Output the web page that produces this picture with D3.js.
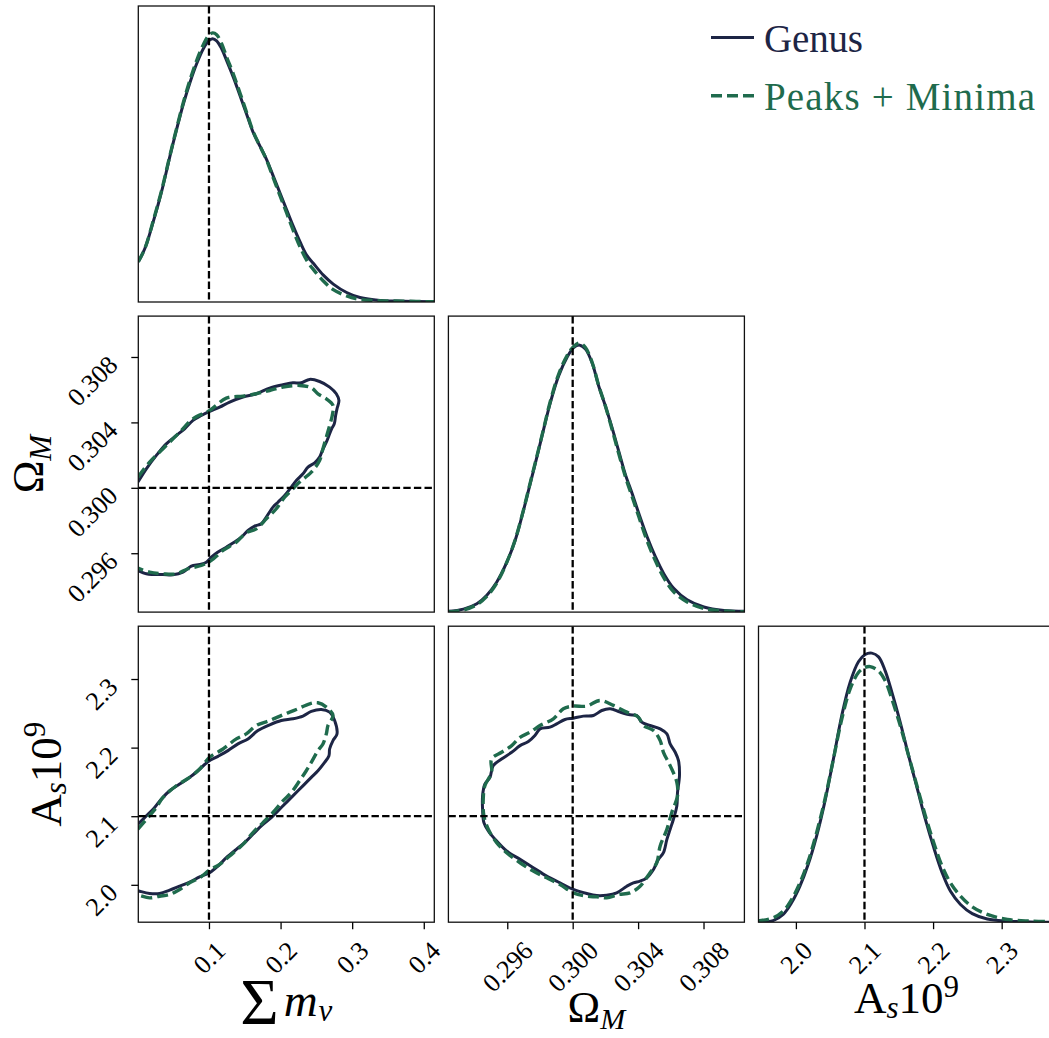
<!DOCTYPE html>
<html>
<head>
<meta charset="utf-8">
<script src="https://cdn.jsdelivr.net/npm/d3@7"></script>
<style>
  html, body { margin: 0; padding: 0; background: #fff; }
  svg { display: block; }
</style>
</head>
<body>
<svg id="chart" width="1049" height="1038"></svg>
<script>
// ---------------- parameters ----------------
const sumMnuRange = [0.0013, 0.4147];
const omegaMRange = [0.2924, 0.3105];
const asRange = [1.9455, 2.377];
const truthValues = [0.1, 0.3, 2.1];

const sumMnuTicks = [0.1, 0.2, 0.3, 0.4];
const sumMnuTickLabels = ["0.1", "0.2", "0.3", "0.4"];
const omegaMTicks = [0.296, 0.300, 0.304, 0.308];
const omegaMTickLabels = ["0.296", "0.300", "0.304", "0.308"];
const asTicks = [2.0, 2.1, 2.2, 2.3];
const asTickLabels = ["2.0", "2.1", "2.2", "2.3"];

const seriesNames = ["Genus", "Peaks + Minima"];

// ---------------- 1D marginal densities [value, relative density] ----------------
const genusSumMnu = [[0.0013,0.153],[0.0106,0.204],[0.0223,0.306],[0.0339,0.420],[0.0455,0.554],[0.0548,0.656],[0.0642,0.752],[0.0735,0.834],[0.0828,0.905],[0.0921,0.962],[0.0991,0.991],[0.1051,1.000],[0.1107,0.992],[0.1177,0.962],[0.1247,0.917],[0.1340,0.854],[0.1433,0.784],[0.1526,0.713],[0.1619,0.643],[0.1712,0.592],[0.1805,0.541],[0.1898,0.478],[0.1992,0.414],[0.2085,0.350],[0.2178,0.287],[0.2271,0.229],[0.2364,0.178],[0.2457,0.147],[0.2597,0.102],[0.2736,0.068],[0.2923,0.036],[0.3109,0.017],[0.3388,0.006],[0.3714,0.003],[0.4147,0.001]];
const peaksSumMnu = [[0.0013,0.153],[0.0106,0.204],[0.0223,0.310],[0.0339,0.424],[0.0455,0.557],[0.0548,0.659],[0.0642,0.758],[0.0735,0.843],[0.0828,0.917],[0.0921,0.977],[0.0991,1.010],[0.1051,1.022],[0.1107,1.015],[0.1177,0.981],[0.1247,0.930],[0.1340,0.866],[0.1433,0.794],[0.1526,0.720],[0.1619,0.646],[0.1712,0.592],[0.1805,0.539],[0.1898,0.471],[0.1992,0.404],[0.2085,0.338],[0.2178,0.271],[0.2271,0.210],[0.2364,0.159],[0.2457,0.124],[0.2597,0.080],[0.2736,0.047],[0.2923,0.023],[0.3109,0.010],[0.3388,0.005],[0.3714,0.003],[0.4147,0.001]];

const genusOmegaM = [[0.29240,0.003],[0.29332,0.011],[0.29414,0.031],[0.29475,0.063],[0.29536,0.113],[0.29598,0.188],[0.29649,0.270],[0.29700,0.383],[0.29741,0.483],[0.29782,0.583],[0.29822,0.684],[0.29863,0.784],[0.29914,0.885],[0.29965,0.954],[0.30006,0.991],[0.30043,1.000],[0.30078,0.985],[0.30118,0.935],[0.30159,0.847],[0.30200,0.772],[0.30241,0.690],[0.30282,0.602],[0.30323,0.514],[0.30363,0.445],[0.30404,0.370],[0.30455,0.282],[0.30506,0.207],[0.30557,0.144],[0.30619,0.088],[0.30700,0.046],[0.30802,0.019],[0.30925,0.006],[0.31054,0.003]];
const peaksOmegaM = [[0.29240,0.001],[0.29332,0.008],[0.29414,0.028],[0.29475,0.059],[0.29536,0.109],[0.29598,0.188],[0.29649,0.272],[0.29700,0.385],[0.29741,0.486],[0.29782,0.586],[0.29822,0.686],[0.29863,0.789],[0.29914,0.891],[0.29965,0.960],[0.30006,0.995],[0.30043,1.008],[0.30078,0.991],[0.30118,0.937],[0.30159,0.849],[0.30200,0.772],[0.30241,0.684],[0.30282,0.593],[0.30323,0.506],[0.30363,0.433],[0.30404,0.358],[0.30455,0.267],[0.30506,0.192],[0.30557,0.129],[0.30619,0.075],[0.30700,0.038],[0.30802,0.013],[0.30925,0.004],[0.31054,0.001]];

const genusAs = [[1.9449,0.001],[1.9668,0.006],[1.9815,0.029],[1.9937,0.072],[2.0059,0.134],[2.0180,0.215],[2.0302,0.320],[2.0424,0.450],[2.0546,0.605],[2.0668,0.767],[2.0790,0.891],[2.0912,0.968],[2.1010,0.995],[2.1107,1.000],[2.1205,0.986],[2.1302,0.934],[2.1400,0.854],[2.1522,0.742],[2.1644,0.618],[2.1766,0.500],[2.1888,0.382],[2.2010,0.277],[2.2132,0.184],[2.2254,0.115],[2.2400,0.066],[2.2571,0.032],[2.2790,0.012],[2.3083,0.004],[2.3424,0.001],[2.3712,0.000]];
const peaksAs = [[1.9449,0.005],[1.9668,0.016],[1.9815,0.041],[1.9937,0.084],[2.0059,0.146],[2.0180,0.227],[2.0302,0.333],[2.0424,0.457],[2.0546,0.605],[2.0668,0.754],[2.0790,0.866],[2.0912,0.928],[2.1010,0.947],[2.1083,0.950],[2.1205,0.934],[2.1302,0.897],[2.1400,0.829],[2.1522,0.730],[2.1644,0.618],[2.1766,0.506],[2.1888,0.395],[2.2010,0.295],[2.2132,0.208],[2.2254,0.146],[2.2400,0.097],[2.2571,0.057],[2.2790,0.029],[2.3083,0.010],[2.3424,0.004],[2.3712,0.002]];

// ---------------- 2D confidence contours [x, y] ----------------
// sum m_nu vs Omega_M (open at the lower bound of sum m_nu)
const genusMnuOm = [[0.0008,0.30035],[0.0125,0.30116],[0.0265,0.30198],[0.0404,0.30269],[0.0544,0.30320],[0.0660,0.30361],[0.0777,0.30412],[0.0893,0.30442],[0.1009,0.30467],[0.1149,0.30493],[0.1289,0.30524],[0.1475,0.30555],[0.1661,0.30575],[0.1847,0.30610],[0.2033,0.30630],[0.2173,0.30642],[0.2289,0.30642],[0.2406,0.30663],[0.2545,0.30650],[0.2685,0.30616],[0.2778,0.30575],[0.2815,0.30534],[0.2788,0.30483],[0.2769,0.30442],[0.2750,0.30391],[0.2713,0.30361],[0.2676,0.30320],[0.2639,0.30279],[0.2583,0.30228],[0.2545,0.30188],[0.2476,0.30153],[0.2383,0.30126],[0.2313,0.30086],[0.2220,0.30045],[0.2150,0.30004],[0.2057,0.29953],[0.1964,0.29912],[0.1894,0.29882],[0.1801,0.29821],[0.1731,0.29780],[0.1638,0.29766],[0.1545,0.29739],[0.1452,0.29698],[0.1358,0.29668],[0.1242,0.29637],[0.1126,0.29607],[0.1033,0.29576],[0.0963,0.29545],[0.0870,0.29531],[0.0753,0.29521],[0.0637,0.29484],[0.0497,0.29468],[0.0358,0.29470],[0.0218,0.29470],[0.0125,0.29474],[0.0008,0.29494]];
const peaksMnuOm = [[0.0008,0.30065],[0.0171,0.30157],[0.0358,0.30239],[0.0590,0.30340],[0.0777,0.30422],[0.1009,0.30473],[0.1242,0.30548],[0.1475,0.30561],[0.1661,0.30575],[0.1847,0.30595],[0.2033,0.30616],[0.2266,0.30626],[0.2429,0.30612],[0.2522,0.30575],[0.2639,0.30544],[0.2732,0.30504],[0.2722,0.30442],[0.2685,0.30381],[0.2639,0.30310],[0.2592,0.30239],[0.2545,0.30167],[0.2429,0.30096],[0.2266,0.30035],[0.2150,0.29984],[0.2057,0.29943],[0.1940,0.29872],[0.1801,0.29810],[0.1661,0.29749],[0.1521,0.29725],[0.1382,0.29668],[0.1196,0.29617],[0.1033,0.29556],[0.0893,0.29525],[0.0707,0.29505],[0.0544,0.29474],[0.0358,0.29474],[0.0171,0.29484],[0.0008,0.29509]];

// sum m_nu vs A_s 10^9 (open at the lower bound of sum m_nu)
const genusMnuAs = [[0.0008,2.0883],[0.0148,2.1029],[0.0241,2.1127],[0.0334,2.1249],[0.0451,2.1371],[0.0590,2.1468],[0.0730,2.1566],[0.0846,2.1663],[0.0986,2.1795],[0.1126,2.1873],[0.1265,2.1956],[0.1405,2.2054],[0.1545,2.2127],[0.1684,2.2249],[0.1847,2.2332],[0.2010,2.2395],[0.2173,2.2420],[0.2313,2.2459],[0.2429,2.2527],[0.2569,2.2556],[0.2685,2.2517],[0.2755,2.2395],[0.2788,2.2200],[0.2732,2.2102],[0.2685,2.1980],[0.2676,2.1883],[0.2615,2.1785],[0.2522,2.1663],[0.2429,2.1566],[0.2336,2.1468],[0.2243,2.1371],[0.2127,2.1249],[0.2010,2.1127],[0.1870,2.0980],[0.1731,2.0859],[0.1614,2.0737],[0.1498,2.0615],[0.1382,2.0517],[0.1242,2.0395],[0.1126,2.0273],[0.1009,2.0176],[0.0870,2.0117],[0.0730,2.0039],[0.0590,1.9980],[0.0451,1.9922],[0.0311,1.9873],[0.0171,1.9873],[0.0032,1.9907],[0.0005,1.9915]];
const peaksMnuAs = [[0.0008,2.0810],[0.0148,2.0980],[0.0265,2.1127],[0.0358,2.1273],[0.0544,2.1444],[0.0730,2.1566],[0.0870,2.1688],[0.1009,2.1859],[0.1196,2.1980],[0.1382,2.2127],[0.1521,2.2200],[0.1661,2.2322],[0.1847,2.2395],[0.2033,2.2478],[0.2220,2.2556],[0.2406,2.2639],[0.2522,2.2654],[0.2639,2.2590],[0.2732,2.2468],[0.2662,2.2322],[0.2639,2.2200],[0.2592,2.2054],[0.2522,2.1956],[0.2429,2.1785],[0.2359,2.1663],[0.2266,2.1517],[0.2150,2.1346],[0.2033,2.1224],[0.1894,2.1054],[0.1754,2.0907],[0.1614,2.0761],[0.1475,2.0590],[0.1289,2.0420],[0.1149,2.0298],[0.1009,2.0215],[0.0870,2.0102],[0.0730,2.0029],[0.0590,1.9932],[0.0451,1.9859],[0.0311,1.9834],[0.0171,1.9810],[0.0032,1.9844],[0.0005,1.9850]];

// Omega_M vs A_s 10^9 (closed)
const genusOmAs = [[0.29449,2.1298],[0.29463,2.1468],[0.29494,2.1566],[0.29514,2.1737],[0.29565,2.1834],[0.29627,2.1932],[0.29678,2.2029],[0.29729,2.2088],[0.29769,2.2176],[0.29800,2.2273],[0.29861,2.2298],[0.29902,2.2346],[0.29953,2.2410],[0.30004,2.2429],[0.30065,2.2459],[0.30127,2.2468],[0.30178,2.2541],[0.30229,2.2566],[0.30290,2.2517],[0.30351,2.2478],[0.30392,2.2468],[0.30422,2.2371],[0.30473,2.2322],[0.30535,2.2273],[0.30576,2.2200],[0.30596,2.2054],[0.30627,2.1932],[0.30647,2.1810],[0.30653,2.1590],[0.30641,2.1346],[0.30637,2.1151],[0.30616,2.0956],[0.30596,2.0810],[0.30576,2.0663],[0.30555,2.0468],[0.30524,2.0371],[0.30494,2.0224],[0.30453,2.0102],[0.30412,2.0054],[0.30371,2.0029],[0.30331,1.9980],[0.30269,1.9883],[0.30208,1.9849],[0.30147,1.9844],[0.30086,1.9873],[0.30004,1.9932],[0.29922,2.0029],[0.29841,2.0127],[0.29759,2.0249],[0.29678,2.0371],[0.29596,2.0493],[0.29535,2.0639],[0.29484,2.0785],[0.29457,2.0907],[0.29449,2.1102]];
const peaksOmAs = [[0.29453,2.1249],[0.29463,2.1444],[0.29504,2.1639],[0.29504,2.1834],[0.29565,2.1932],[0.29627,2.2029],[0.29678,2.2151],[0.29739,2.2224],[0.29800,2.2322],[0.29882,2.2420],[0.29943,2.2566],[0.30004,2.2605],[0.30086,2.2605],[0.30167,2.2688],[0.30249,2.2615],[0.30331,2.2517],[0.30402,2.2444],[0.30433,2.2322],[0.30494,2.2249],[0.30535,2.2102],[0.30555,2.1932],[0.30596,2.1737],[0.30637,2.1493],[0.30641,2.1298],[0.30606,2.1054],[0.30576,2.0810],[0.30535,2.0566],[0.30514,2.0322],[0.30473,2.0176],[0.30412,1.9980],[0.30351,1.9883],[0.30280,1.9859],[0.30208,1.9810],[0.30147,1.9824],[0.30086,1.9834],[0.30004,1.9883],[0.29922,2.0005],[0.29841,2.0102],[0.29759,2.0200],[0.29678,2.0322],[0.29596,2.0468],[0.29535,2.0615],[0.29484,2.0810],[0.29457,2.1005]];

// ---------------- layout & style ----------------
const FONT = "'Liberation Serif', 'DejaVu Serif', serif";
const NAVY = "#1d2545";
const GREEN = "#1f6b4d";
const seriesStyle = [
  { color: NAVY, width: 3.0, dash: null },
  { color: GREEN, width: 3.4, dash: "11,5" }
];
const panelSize = 296;
const panelStep = 310.1;
const originX = 138.3;
const originY = 6;
const tickFont = 26;

const params = [
  { range: sumMnuRange, ticks: sumMnuTicks, labels: sumMnuTickLabels, truth: truthValues[0] },
  { range: omegaMRange, ticks: omegaMTicks, labels: omegaMTickLabels, truth: truthValues[1] },
  { range: asRange, ticks: asTicks, labels: asTickLabels, truth: truthValues[2] }
];

const svg = d3.select("#chart");
svg.append("rect").attr("width", 1049).attr("height", 1038).attr("fill", "#fff");
const defs = svg.append("defs");

function makePanel(row, col) {
  const g = svg.append("g")
    .attr("transform", `translate(${originX + col * panelStep},${originY + row * panelStep})`);
  const id = `clip-${row}-${col}`;
  defs.append("clipPath").attr("id", id)
    .append("rect").attr("width", panelSize).attr("height", panelSize);
  const plot = g.append("g").attr("clip-path", `url(#${id})`);
  return { g, plot };
}

function styleSeries(sel, i) {
  const s = seriesStyle[i];
  sel.attr("fill", "none")
    .attr("stroke", s.color)
    .attr("stroke-width", s.width)
    .attr("stroke-linejoin", "round")
    .attr("stroke-dasharray", s.dash);
}

function truthLine(plot, x1, y1, x2, y2) {
  plot.append("line")
    .attr("x1", x1).attr("y1", y1).attr("x2", x2).attr("y2", y2)
    .attr("stroke", "#000").attr("stroke-width", 2.3)
    .attr("stroke-dasharray", "7.4,3.2");
}

function frame(g) {
  g.append("rect").attr("width", panelSize).attr("height", panelSize)
    .attr("fill", "none").attr("stroke", "#111").attr("stroke-width", 1.3);
}

const panels = {};

// diagonal: 1D marginals
const marginals = [[genusSumMnu, peaksSumMnu], [genusOmegaM, peaksOmegaM], [genusAs, peaksAs]];
marginals.forEach((curves, i) => {
  const { g, plot } = makePanel(i, i);
  const p = params[i];
  const x = d3.scaleLinear().domain(p.range).range([0, panelSize]);
  const ymax = 1.1 * d3.max(curves.flat(), d => d[1]);
  const y = d3.scaleLinear().domain([0, ymax]).range([panelSize, 0]);
  const line = d3.line().x(d => x(d[0])).y(d => y(d[1])).curve(d3.curveCatmullRom.alpha(0.5));
  curves.forEach((c, k) => styleSeries(plot.append("path").datum(c).attr("d", line), k));
  truthLine(plot, x(p.truth), 0, x(p.truth), panelSize);
  frame(g);
  panels[`${i}-${i}`] = { g, x, y };
});

// lower triangle: 2D contours
const contours = [
  { row: 1, col: 0, data: [genusMnuOm, peaksMnuOm], closed: false },
  { row: 2, col: 0, data: [genusMnuAs, peaksMnuAs], closed: false },
  { row: 2, col: 1, data: [genusOmAs, peaksOmAs], closed: true }
];
contours.forEach(c => {
  const { g, plot } = makePanel(c.row, c.col);
  const px = params[c.col], py = params[c.row];
  const x = d3.scaleLinear().domain(px.range).range([0, panelSize]);
  const y = d3.scaleLinear().domain(py.range).range([panelSize, 0]);
  const line = d3.line().x(d => x(d[0])).y(d => y(d[1]))
    .curve(c.closed ? d3.curveCatmullRomClosed.alpha(0.5) : d3.curveCatmullRom.alpha(0.5));
  c.data.forEach((d, k) => styleSeries(plot.append("path").datum(d).attr("d", line), k));
  truthLine(plot, x(px.truth), 0, x(px.truth), panelSize);
  truthLine(plot, 0, y(py.truth), panelSize, y(py.truth));
  frame(g);
  panels[`${c.row}-${c.col}`] = { g, x, y };
});

// ---------------- axes ----------------
function bottomAxis(panel, p) {
  const ax = panel.g.append("g").attr("transform", `translate(0,${panelSize})`)
    .call(d3.axisBottom(panel.x).tickValues(p.ticks).tickFormat((d, i) => p.labels[i]).tickSize(7));
  ax.attr("font-family", FONT).attr("font-size", tickFont);
  ax.select(".domain").remove();
  ax.selectAll(".tick line").attr("stroke", "#000").attr("stroke-width", 1.3);
  ax.selectAll(".tick text")
    .attr("font-family", FONT).attr("font-size", tickFont).attr("fill", "#000")
    .attr("text-anchor", "end").attr("y", 0).attr("dy", null)
    .attr("transform", function () {
      const L = this.getComputedTextLength();
      const H = 0.66 * tickFont;
      return `translate(${0.354 * (L + H)},30) rotate(-45)`;
    });
}

function leftAxis(panel, p) {
  const ax = panel.g.append("g")
    .call(d3.axisLeft(panel.y).tickValues(p.ticks).tickFormat((d, i) => p.labels[i]).tickSize(7));
  ax.attr("font-family", FONT).attr("font-size", tickFont);
  ax.select(".domain").remove();
  ax.selectAll(".tick line").attr("stroke", "#000").attr("stroke-width", 1.3);
  ax.selectAll(".tick text")
    .attr("font-family", FONT).attr("font-size", tickFont).attr("fill", "#000")
    .attr("text-anchor", "end").attr("x", 0).attr("dy", null)
    .attr("transform", "translate(-19,9) rotate(-45)");
}

bottomAxis(panels["2-0"], params[0]);
bottomAxis(panels["2-1"], params[1]);
bottomAxis(panels["2-2"], params[2]);
leftAxis(panels["1-0"], params[1]);
leftAxis(panels["2-0"], params[2]);

// ---------------- axis titles ----------------
const colCenter = c => originX + c * panelStep + panelSize / 2;
const rowCenter = r => originY + r * panelStep + panelSize / 2;

// sum of neutrino masses
const t0 = svg.append("text").attr("x", colCenter(0)).attr("y", 1016)
  .attr("text-anchor", "middle").attr("font-family", FONT).attr("fill", "#000");
t0.append("tspan").attr("font-size", 66).attr("dy", 8).text("Σ");
t0.append("tspan").attr("font-size", 47).attr("font-style", "italic").attr("dy", -8).attr("dx", 5).text("m");
t0.append("tspan").attr("font-size", 31).attr("font-style", "italic").attr("dy", 5).attr("dx", 1).text("ν");

// Omega_M (bottom)
const t1 = svg.append("text").attr("x", colCenter(1)).attr("y", 1022)
  .attr("text-anchor", "middle").attr("font-family", FONT).attr("fill", "#000");
t1.append("tspan").attr("font-size", 44).text("Ω");
t1.append("tspan").attr("font-size", 30).attr("font-style", "italic").attr("dy", 7).text("M");

// A_s 10^9 (bottom)
function asLabel(sel) {
  sel.append("tspan").attr("font-size", 45).text("A");
  sel.append("tspan").attr("font-size", 31).attr("font-style", "italic").attr("dy", 5).text("s");
  sel.append("tspan").attr("font-size", 45).attr("dy", -5).text("10");
  sel.append("tspan").attr("font-size", 31).attr("dy", -16.5).text("9");
}
const t2 = svg.append("text").attr("x", colCenter(2)).attr("y", 1013)
  .attr("text-anchor", "middle").attr("font-family", FONT).attr("fill", "#000");
asLabel(t2);

// Omega_M (left)
const ly1 = rowCenter(1);
const t3 = svg.append("text").attr("x", 43).attr("y", ly1)
  .attr("transform", `rotate(-90,43,${ly1})`)
  .attr("text-anchor", "middle").attr("font-family", FONT).attr("fill", "#000");
t3.append("tspan").attr("font-size", 44).text("Ω");
t3.append("tspan").attr("font-size", 31).attr("font-style", "italic").attr("dy", 8).text("M");

// A_s 10^9 (left)
const ly2 = rowCenter(2);
const t4 = svg.append("text").attr("x", 61.5).attr("y", ly2)
  .attr("transform", `rotate(-90,61.5,${ly2})`)
  .attr("text-anchor", "middle").attr("font-family", FONT).attr("fill", "#000");
asLabel(t4);

// ---------------- legend ----------------
const legend = svg.append("g");
const legendRows = [{ y: 37.5, base: 52, width: 99 }, { y: 95.7, base: 110, width: 271 }];
seriesNames.forEach((name, i) => {
  const s = seriesStyle[i];
  styleSeries(legend.append("line")
    .attr("x1", 711).attr("x2", 754)
    .attr("y1", legendRows[i].y).attr("y2", legendRows[i].y), i);
  legend.append("text")
    .attr("x", 764).attr("y", legendRows[i].base)
    .attr("font-family", FONT).attr("font-size", 39)
    .attr("textLength", legendRows[i].width).attr("lengthAdjust", "spacing")
    .attr("fill", s.color).text(name);
});
</script>
</body>
</html>
